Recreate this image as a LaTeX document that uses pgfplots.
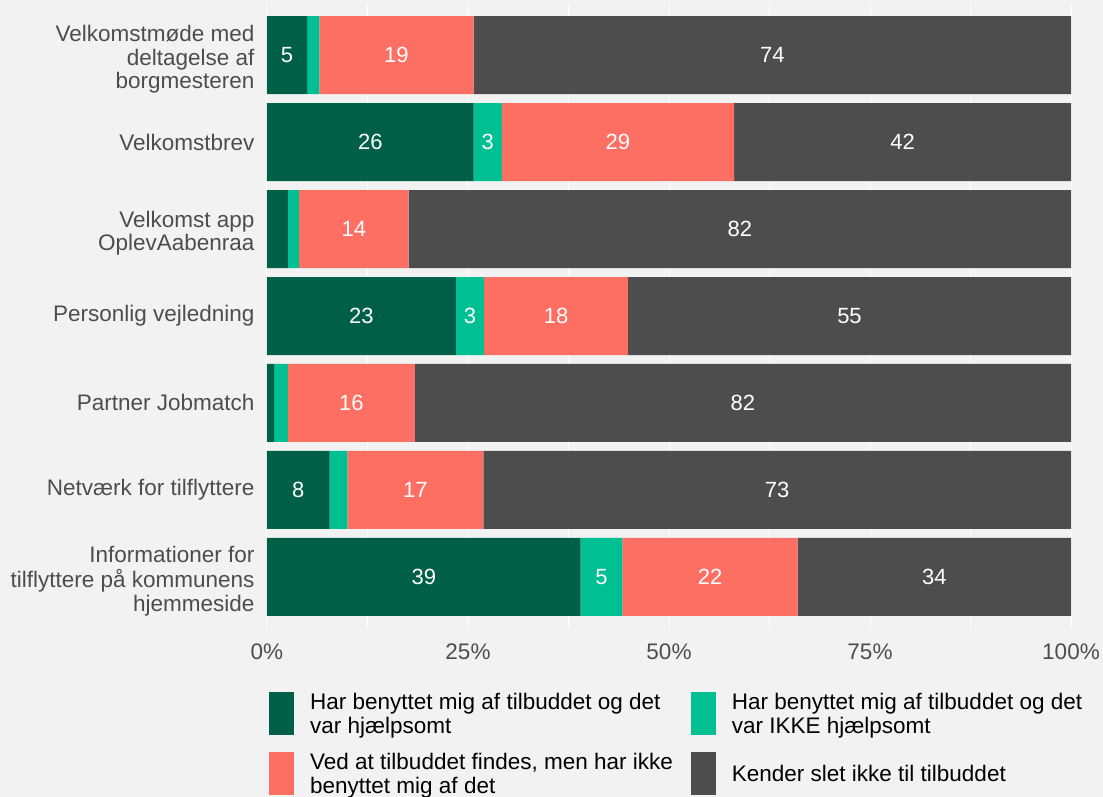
\documentclass[border=0pt]{standalone}
\usepackage{pgfplots}
\usepackage{pgfplotstable}
\usepackage{fontspec}
\setmainfont{Liberation Sans}
\pgfplotsset{compat=1.18}

\definecolor{bg}{HTML}{F2F2F2}
\definecolor{hjaelp}{HTML}{005F47}
\definecolor{ikke}{HTML}{00BF92}
\definecolor{kender}{HTML}{FD6F63}
\definecolor{slet}{HTML}{4D4D4D}
\definecolor{axtxt}{HTML}{4D4D4D}

% shares in percent, plus the printed (rounded) labels; empty label = not printed
\pgfplotstableread[col sep=comma]{
pos,hj,ik,ke,sl,lhj,lik,lke,lsl
1,5,1.5,19.2,74.3,5,,19,74
2,25.7,3.5,28.9,41.9,26,3,29,42
3,2.6,1.4,13.6,82.4,,,14,82
4,23.5,3.5,17.9,55.1,23,3,18,55
5,0.9,1.7,15.8,81.6,,,16,82
6,7.8,2.2,16.9,73.1,8,,17,73
7,39,5.2,21.8,34,39,5,22,34
}\data

\newcommand{\txt}{\fontsize{22.5}{23.5}\selectfont}
% multi-line category names, nudged down a little to sit centred on the bar
\newcommand{\lines}[1]{\begin{tabular}{@{}r@{}}\rule{0pt}{27pt}#1\end{tabular}}

\begin{document}
\begin{tikzpicture}
\fill[bg] (-267pt,-168pt) rectangle (836pt,629pt);
\begin{axis}[
    scale only axis,
    width=804pt, height=626pt,
    xbar stacked,
    bar width=78pt,
    xmin=0, xmax=100,
    ymin=0.4, ymax=7.6,
    y dir=reverse,
    enlargelimits=false,
    axis line style={draw=none},
    tick style={draw=none},
    major tick length=0pt,
    xtick={0,25,50,75,100},
    xticklabels={0\%,25\%,50\%,75\%,100\%},
    minor x tick num=1,
    grid=both,
    ymajorgrids=false, yminorgrids=false,
    major grid style={white, line width=1pt},
    minor grid style={white, line width=0.6pt},
    ytick={1,2,3,4,5,6,7},
    yticklabels={
      {\lines{Velkomstmøde med\\deltagelse af\\borgmesteren}},
      Velkomstbrev,
      {\lines{Velkomst app\\OplevAabenraa}},
      Personlig vejledning,
      Partner Jobmatch,
      Netværk for tilflyttere,
      {\lines{Informationer for\\tilflyttere på kommunens\\hjemmeside}}},
    yticklabel style={font=\txt, text=axtxt, xshift=-9pt},
    xticklabel style={font=\txt, text=axtxt, yshift=-11pt},
    point meta=explicit symbolic,
    nodes near coords,
    every node near coord/.append style={font=\fontsize{22}{24}\selectfont,
      text=white, anchor=center},
    legend columns=2,
    legend style={at={(0,0)}, anchor=north west, xshift=-1pt, yshift=-60pt,
      draw=none, fill=none, font=\txt, row sep=15pt,
      cells={align=left, anchor=west},
      /tikz/every odd column/.append style={column sep=14pt},
      /tikz/every even column/.append style={column sep=16pt}},
    legend image code/.code={\fill[#1] (0pt,-21pt) rectangle (25pt,22pt);},
]
\addplot[fill=hjaelp, draw=none] table[x=hj, y=pos, meta=lhj] {\data};
\addlegendentry{Har benyttet mig af tilbuddet og det\\var hjælpsomt}
\addplot[fill=ikke, draw=none] table[x=ik, y=pos, meta=lik] {\data};
\addlegendentry{Har benyttet mig af tilbuddet og det\\var IKKE hjælpsomt}
\addplot[fill=kender, draw=none] table[x=ke, y=pos, meta=lke] {\data};
\addlegendentry{Ved at tilbuddet findes, men har ikke\\benyttet mig af det}
\addplot[fill=slet, draw=none] table[x=sl, y=pos, meta=lsl] {\data};
\addlegendentry{Kender slet ikke til tilbuddet}
\end{axis}
\pgfresetboundingbox
\useasboundingbox (-267pt,-168pt) rectangle (836pt,629pt);
\end{tikzpicture}
\end{document}
